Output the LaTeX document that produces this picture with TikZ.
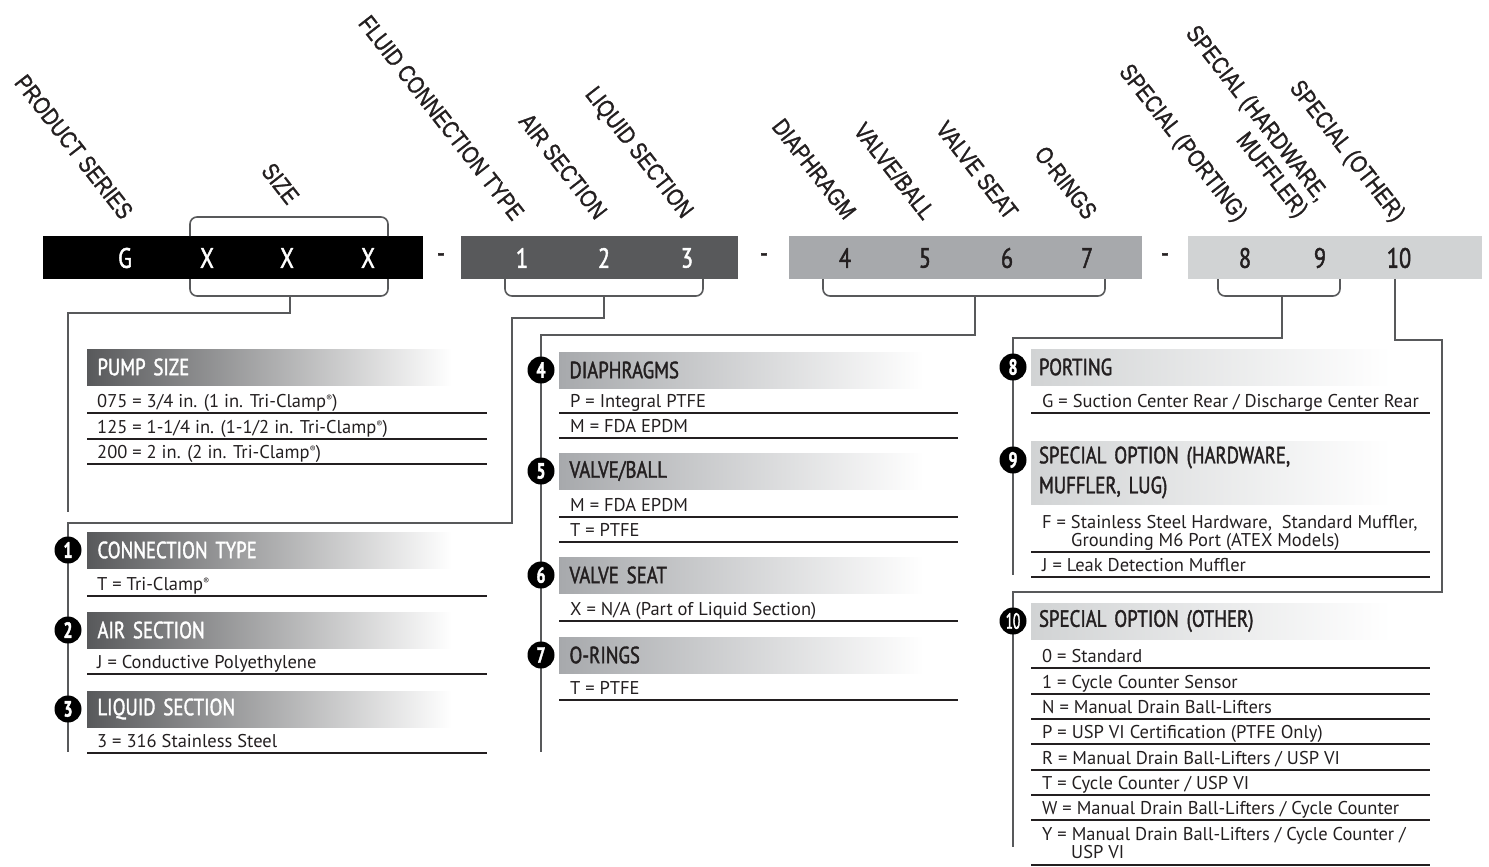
\documentclass[tikz,border=0pt]{standalone}
\usepackage{fontspec}
\setmainfont{PT Sans}
\newfontfamily\condfont{PT Sans}[FakeStretch=0.8, FakeBold=1.6]
\newfontfamily\bcondfont{PT Sans}[FakeStretch=0.72, FakeBold=1.8]
\newfontfamily\tencondfont{PT Sans}[FakeStretch=0.6, FakeBold=1.8]
\newfontfamily\narrowfont{Liberation Sans}[FakeStretch=0.82, FakeBold=1.2]
\newcommand\hdrfont{\condfont\fontsize{23.5}{30}\selectfont}
\newcommand\labfont{\narrowfont\fontsize{24}{26}\selectfont}
\newcommand\barfont{\condfont\fontsize{28}{28}\selectfont}
\newcommand\entfont{\fontsize{18.5}{18}\selectfont}
\newcommand\badgefont{\bcondfont\bfseries\fontsize{22}{22}\selectfont}
\newcommand\regmark{\raisebox{0.6ex}{\fontsize{9}{9}\selectfont ®}}
\definecolor{dkgray}{HTML}{58595B}
\definecolor{mdgray}{HTML}{A7A9AC}
\definecolor{ltgray}{HTML}{D1D3D4}
\definecolor{ink}{HTML}{231F20}
\definecolor{linegray}{HTML}{58595B}
\tikzset{
  conn/.style={draw=linegray, line width=2.4pt},
  brk/.style={draw=linegray, line width=1.6pt, rounded corners=7pt},
  barseg/.style={anchor=north west, minimum height=43pt, inner sep=0pt, outer sep=0pt},
  bardigit/.style={font=\barfont, inner sep=0pt},
  toplabel/.style={font=\labfont, rotate=-52, anchor=east, inner sep=0pt, text=ink, align=right},
  hdr/.style={anchor=north west, minimum height=36pt, inner xsep=8pt, inner ysep=0pt,
     text width=344pt, align=left, font=\hdrfont, outer sep=0pt},
  hdrL/.style={hdr, left color=dkgray, right color=white, text=white, minimum width=365pt},
  hdrM/.style={hdr, left color=mdgray, right color=white, text=ink, minimum width=365pt},
  hdrR/.style={hdr, left color=ltgray, right color=white, text=ink, minimum width=355pt},
  ent/.style={anchor=base west, font=\entfont, inner sep=0pt, text=ink, align=left},
  rule/.style={draw=ink, line width=1.3pt},
  badge/.style={circle, fill=black, text=white, minimum size=27pt, inner sep=0pt, font=\badgefont}
}
\begin{document}
\begin{tikzpicture}[x=1pt,y=-1pt]
\useasboundingbox (0,0) rectangle (1489,867);

% ---------------- code bar ----------------
\node[barseg, fill=black,  minimum width=380pt] (seg1) at (43,236) {};
\node[barseg, fill=dkgray, minimum width=277pt] (seg2) at (461,236) {};
\node[barseg, fill=mdgray, minimum width=353pt] (seg3) at (789,236) {};
\node[barseg, fill=ltgray, minimum width=294pt] (seg4) at (1188,236) {};

\node[bardigit, text=white] (dG) at (125,258) {G};
\node[bardigit, text=white] (dX1) at (207,258) {X};
\node[bardigit, text=white] (dX2) at (287,258) {X};
\node[bardigit, text=white] (dX3) at (368,258) {X};
\node[bardigit, text=ink] (dash1) at (441,258) {-};
\node[bardigit, text=white] (d1) at (522,258) {1};
\node[bardigit, text=white] (d2) at (604,258) {2};
\node[bardigit, text=white] (d3) at (687,258) {3};
\node[bardigit, text=ink] (dash2) at (764,258) {-};
\node[bardigit, text=ink] (d4) at (845,258) {4};
\node[bardigit, text=ink] (d5) at (925,258) {5};
\node[bardigit, text=ink] (d6) at (1007,258) {6};
\node[bardigit, text=ink] (d7) at (1087,258) {7};
\node[bardigit, text=ink] (dash3) at (1165,258) {-};
\node[bardigit, text=ink] (d8) at (1245,258) {8};
\node[bardigit, text=ink] (d9) at (1320,258) {9};
\node[bardigit, text=ink] (d10) at (1399,258) {10};

% ---------------- rotated labels ----------------
\node[toplabel] (lPS) at (128,216) {PRODUCT SERIES};
\node[toplabel] (lSZ) at (294,201) {SIZE};
\node[toplabel] (lFC) at (519,217) {FLUID CONNECTION TYPE};
\node[toplabel] (lAS) at (602,216) {AIR SECTION};
\node[toplabel] (lLS) at (687,216) {LIQUID SECTION};
\node[toplabel] (lDI) at (851,216) {DIAPHRAGM};
\node[toplabel] (lVB) at (930,216) {VALVE/BALL};
\node[toplabel] (lVS) at (1013,216) {VALVE SEAT};
\node[toplabel] (lOR) at (1092,216) {O-RINGS};
\node[toplabel] (lSP) at (1241,219) {SPECIAL (PORTING)};
\node[toplabel] (lSH) at (1312,207) {SPECIAL (HARDWARE,\\MUFFLER)};
\node[toplabel] (lSO) at (1399,219) {SPECIAL (OTHER)};

% ---------------- brackets ----------------
\draw[brk] (190,236) -- (190,217) -- (388,217) -- (388,236);
\draw[brk] (190,279) -- (190,296) -- (388,296) -- (388,279);
\draw[brk] (505,279) -- (505,296) -- (703,296) -- (703,279);
\draw[brk] (823,279) -- (823,296) -- (1105,296) -- (1105,279);
\draw[brk] (1218,279) -- (1218,296) -- (1340,296) -- (1340,279);

\coordinate (bSZ) at (290,296);
\coordinate (b123) at (604,296);
\coordinate (b47) at (975,296);
\coordinate (b89) at (1282,296);
\coordinate (b10) at (1395,279);
\coordinate (eSZ) at (68,512);
\coordinate (e123) at (68,752);
\coordinate (e47) at (541,752);
\coordinate (e89) at (1013,575);
\coordinate (e10) at (1013,847);

% ---------------- connectors ----------------
\draw[conn] (bSZ) -- (290,313) -- (68,313) -- (eSZ);
\draw[conn] (b123) -- (604,318) -- (512,318) -- (512,523) -- (68,523) -- (e123);
\draw[conn] (b47) -- (975,335) -- (541,335) -- (e47);
\draw[conn] (b89) -- (1282,338) -- (1013,338) -- (e89);
\draw[conn] (b10) -- (1395,340) -- (1442,340) -- (1442,592) -- (1013,592) -- (e10);

% ---------------- left column ----------------
\node[hdrL] (hPS) at (87,349) {PUMP SIZE};
\node[ent] (ps1) at (97,407) {075 = 3/4 in. (1 in. Tri-Clamp\regmark)};
\draw[rule] (87,413) -- (487,413);
\node[ent] (ps2) at (97,433) {125 = 1-1/4 in. (1-1/2 in. Tri-Clamp\regmark)};
\draw[rule] (87,439) -- (487,439);
\node[ent] (ps3) at (97,458) {200 = 2 in. (2 in. Tri-Clamp\regmark)};
\draw[rule] (87,464) -- (487,464);

\node[hdrL] (hCT) at (87,532) {CONNECTION TYPE};
\node[badge] (n1) at (68,550) {1};
\node[ent] (ct1) at (97,590) {T = Tri-Clamp\regmark};
\draw[rule] (87,596) -- (487,596);

\node[hdrL] (hAS) at (87,612) {AIR SECTION};
\node[badge] (n2) at (68,630) {2};
\node[ent] (as1) at (97,668) {J = Conductive Polyethylene};
\draw[rule] (87,674) -- (487,674);

\node[hdrL] (hLS) at (87,691) {LIQUID SECTION};
\node[badge] (n3) at (68,709) {3};
\node[ent] (ls1) at (97,747) {3 = 316 Stainless Steel};
\draw[rule] (87,753) -- (487,753);

% ---------------- middle column ----------------
\node[hdrM] (hDI) at (559,352) {DIAPHRAGMS};
\node[badge] (n4) at (541,370) {4};
\node[ent] (di1) at (570,407) {P = Integral PTFE};
\draw[rule] (559,413) -- (958,413);
\node[ent] (di2) at (570,432) {M = FDA EPDM};
\draw[rule] (559,438) -- (958,438);

\node[hdrM] (hVB) at (559,453) {VALVE/BALL};
\node[badge] (n5) at (541,471) {5};
\node[ent] (vb1) at (570,511) {M = FDA EPDM};
\draw[rule] (559,517) -- (958,517);
\node[ent] (vb2) at (570,536) {T = PTFE};
\draw[rule] (559,542) -- (958,542);

\node[hdrM] (hVS) at (559,557) {VALVE SEAT};
\node[badge] (n6) at (541,575) {6};
\node[ent] (vs1) at (570,615) {X = N/A (Part of Liquid Section)};
\draw[rule] (559,621) -- (958,621);

\node[hdrM] (hOR) at (559,637) {O-RINGS};
\node[badge] (n7) at (541,655) {7};
\node[ent] (or1) at (570,694) {T = PTFE};
\draw[rule] (559,700) -- (958,700);

% ---------------- right column ----------------
\node[hdrR] (hPO) at (1031,349) {PORTING};
\node[badge] (n8) at (1013,367) {8};
\node[ent] (po1) at (1042,407) {G = Suction Center Rear / Discharge Center Rear};
\draw[rule] (1031,413) -- (1430,413);

\node[hdrR, minimum height=63pt] (hSH) at (1031,441) {SPECIAL OPTION (HARDWARE,\\MUFFLER, LUG)};
\node[badge] (n9) at (1013,460) {9};
\node[ent] (sh1) at (1042,528) {F = Stainless Steel Hardware,\ \ Standard Muffler,};
\node[ent] (sh1b) at (1071,546) {Grounding M6 Port (ATEX Models)};
\draw[rule] (1031,552) -- (1430,552);
\node[ent] (sh2) at (1042,571) {J = Leak Detection Muffler};
\draw[rule] (1031,577) -- (1430,577);

\node[hdrR] (hSO) at (1031,603) {SPECIAL OPTION (OTHER)};
\node[badge, font=\tencondfont\fontsize{22}{22}\selectfont] (n10) at (1013,621) {10};
\node[ent] (so1) at (1042,662) {0 = Standard};
\draw[rule] (1031,668) -- (1430,668);
\node[ent] (so2) at (1042,688) {1 = Cycle Counter Sensor};
\draw[rule] (1031,694) -- (1430,694);
\node[ent] (so3) at (1042,713) {N = Manual Drain Ball-Lifters};
\draw[rule] (1031,719) -- (1430,719);
\node[ent] (so4) at (1042,738) {P = USP VI Certification (PTFE Only)};
\draw[rule] (1031,744) -- (1430,744);
\node[ent] (so5) at (1042,764) {R = Manual Drain Ball-Lifters / USP VI};
\draw[rule] (1031,770) -- (1430,770);
\node[ent] (so6) at (1042,789) {T = Cycle Counter / USP VI};
\draw[rule] (1031,795) -- (1430,795);
\node[ent] (so7) at (1042,814) {W = Manual Drain Ball-Lifters / Cycle Counter};
\draw[rule] (1031,820) -- (1430,820);
\node[ent] (so8) at (1042,840) {Y = Manual Drain Ball-Lifters / Cycle Counter /};
\node[ent] (so8b) at (1071,858) {USP VI};
\draw[rule] (1031,865) -- (1430,865);
\end{tikzpicture}
\end{document}
